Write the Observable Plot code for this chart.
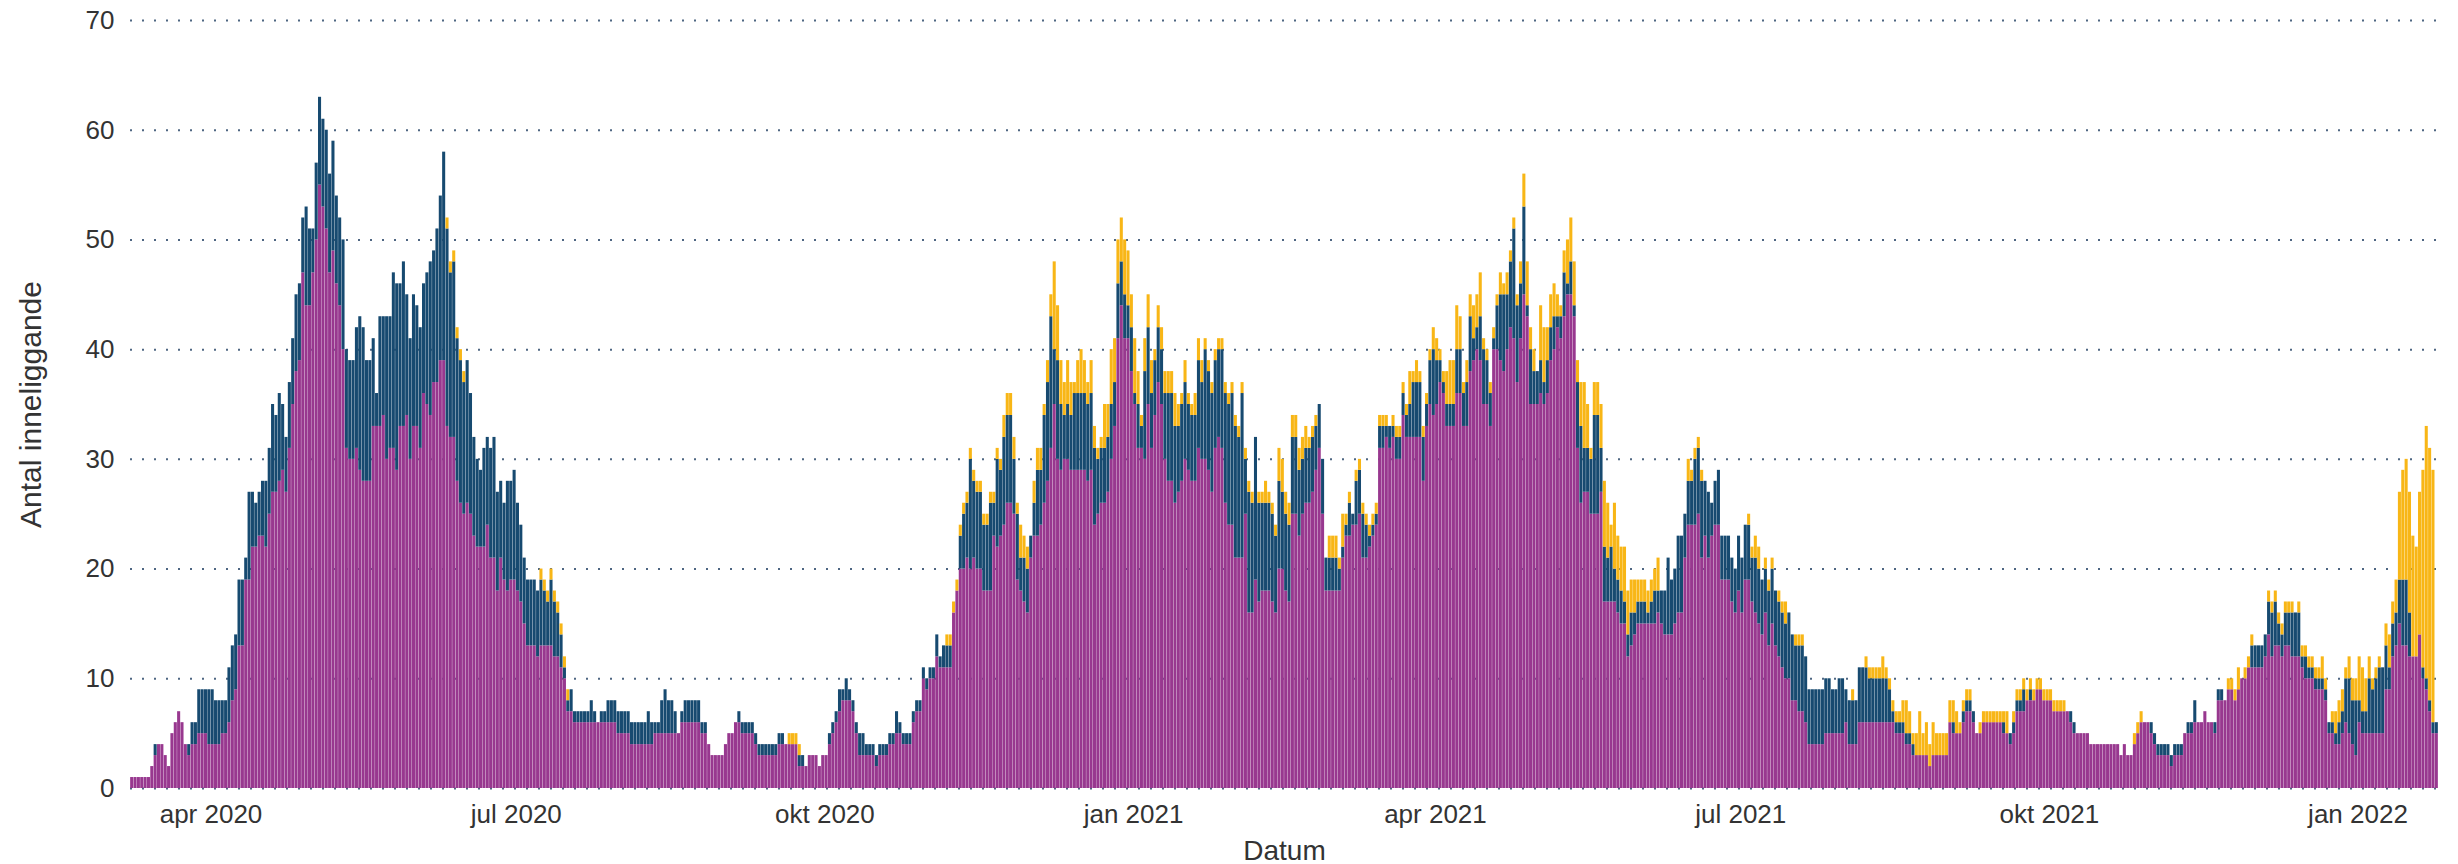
<!DOCTYPE html>
<html><head><meta charset="utf-8">
<script src="https://cdn.jsdelivr.net/npm/d3@7"></script>
<script src="https://cdn.jsdelivr.net/npm/@observablehq/plot@0.6"></script>
<style>
body{margin:0;background:#fff;}
</style></head><body><div id="chart"></div>
<script>
const startDate = "2020-03-08";
const seriesNames = ["Grupp 1", "Grupp 2", "Grupp 3"];
const seriesColors = ["#98388f", "#174a70", "#f8b616"];
const monthNames = ["jan","feb","mar","apr","maj","jun","jul","aug","sep","okt","nov","dec"];
const xTickDates = ["2020-04-01","2020-07-01","2020-10-01","2021-01-01","2021-04-01","2021-07-01","2021-10-01","2022-01-01"];
const yTicks = [0, 10, 20, 30, 40, 50, 60, 70];

const magenta = [
1,1,1,1,1,1,2,3,4,4, 3,2,5,6,7,6,4,3,4,4, 5,5,5,4,4,4,4,5,5,6, 8,9,13,13,19,19,22,22,23,23,
22,25,27,27,28,29,27,31,35,38, 39,47,44,44,47,50,55,53,51,47, 49,46,44,40,31,30,30,31,29,28,
28,28,33,33,33,34,30,31,31,29, 33,33,34,30,33,33,31,36,35,34, 37,37,39,39,33,32,32,28,26,25,
26,25,23,22,22,22,24,21,21,18, 21,19,18,19,19,18,17,15,13,13, 13,12,13,13,13,13,12,12,11,10,
7,7,6,6,6,6,6,6,6,6, 6,6,6,6,6,5,5,5,5,4, 4,4,4,4,4,4,5,5,5,5, 5,5,5,5,6,6,6,6,6,6,
5,5,4,3,3,3,3,4,5,5, 6,6,5,5,5,5,4,3,3,3, 3,3,3,4,4,4,4,4,4,2, 2,2,3,3,3,2,3,3,4,5,
6,7,8,8,8,7,5,3,3,3, 3,3,2,3,3,3,4,4,5,5, 4,4,4,6,7,7,10,9,10,10, 12,11,11,11,11,16,18,20,20,21,
20,21,20,20,18,18,18,23,22,23, 24,26,26,25,19,18,17,16,21,23, 23,24,26,28,31,35,30,29,30,30,
29,29,29,29,29,28,29,24,25,26, 26,27,30,33,41,44,41,41,38,35, 31,31,30,35,31,34,37,35,30,28,
28,26,27,28,30,29,28,28,31,30, 30,29,27,31,32,31,26,24,24,21, 21,21,25,16,16,19,17,18,18,18,
17,16,20,20,18,17,25,25,23,25, 26,26,27,29,31,25,18,18,18,18, 18,21,23,23,24,24,25,21,21,22,
23,24,31,31,32,31,32,30,30,34, 32,32,32,32,32,28,33,35,34,35, 37,36,33,33,33,36,36,33,33,38,
39,40,39,35,35,33,40,40,39,38, 40,42,41,37,41,45,43,35,35,35, 36,35,36,39,40,42,41,43,45,45,
43,31,26,27,27,25,25,25,27,17, 17,17,17,16,15,15,12,13,14,15, 15,15,15,15,15,16,15,14,14,14,
15,16,16,21,24,24,24,25,21,23, 21,23,24,24,19,19,19,17,16,18, 16,19,19,17,16,15,14,16,13,15,
13,12,11,10,10,8,8,7,7,6, 4,4,4,4,4,5,5,5,5,5, 5,6,4,4,4,6,6,6,6,6, 6,6,6,6,6,6,5,5,5,4,
4,3,3,3,3,3,2,3,3,3, 3,3,6,5,5,5,6,7,7,6, 5,5,6,6,6,6,6,6,5,5, 4,5,7,7,7,8,8,8,9,9,
8,8,8,7,7,7,7,7,6,5, 5,5,5,5,4,4,4,4,4,4, 4,4,4,3,4,3,3,4,5,6, 6,6,5,4,3,3,3,3,2,3,
3,3,5,5,5,6,6,6,7,6, 6,5,8,8,8,9,9,8,9,10, 10,11,11,11,11,11,12,14,12,13, 13,12,13,13,12,12,12,11,10,10,
10,9,9,9,8,5,5,4,4,5, 6,5,4,3,6,5,5,5,5,5, 5,5,9,9,12,13,15,13,13,12, 12,12,14,10,9,7,5,5
];

const blue = [
0,0,0,0,0,0,0,1,0,0, 0,0,0,0,0,0,0,1,2,2, 4,4,4,5,5,4,4,3,3,5, 5,5,6,6,2,8,5,4,4,5,
6,6,8,7,8,6,5,6,6,7, 7,5,9,7,4,7,8,8,9,9, 10,8,8,10,9,9,9,11,14,14,
11,11,8,3,10,9,13,12,16,17, 13,15,11,11,12,11,11,10,12,14, 12,14,15,19,18,15,16,13,13,12,
13,11,9,8,7,9,8,10,11,9, 7,7,10,9,10,8,7,6,6,6, 6,6,6,5,4,6,5,4,3,1,
1,2,1,1,1,1,1,2,1,0, 1,1,2,2,2,2,2,2,2,2, 2,2,2,2,3,2,1,1,3,4, 3,3,2,0,1,2,2,2,2,2,
1,1,0,0,0,0,0,0,0,0, 0,1,1,1,1,1,1,1,1,1, 1,1,1,1,1,0,0,0,0,1, 1,0,0,0,0,0,0,0,1,1,
1,2,1,2,1,1,1,2,2,1, 1,1,1,1,1,1,1,1,2,1, 1,1,1,1,1,1,1,1,1,1, 2,1,2,2,2,0,0,3,5,5,
10,7,7,7,6,6,8,3,8,6, 8,8,8,5,6,3,4,4,2,3, 6,5,8,9,12,5,9,6,4,5,
5,7,7,7,7,7,7,7,5,5, 5,5,5,4,5,4,4,3,4,1, 4,2,8,7,5,5,5,5,6,8,
8,7,6,7,7,6,6,6,8,7, 10,9,9,8,8,9,10,11,12,12, 11,15,5,11,10,13,9,8,8,8,
8,7,8,7,7,7,7,7,6,5, 5,5,5,4,4,5,3,3,3,3, 2,1,1,3,1,4,4,4,3,1,
1,1,2,2,1,2,1,2,2,2, 2,3,5,5,5,4,2,4,6,4, 2,1,2,2,2,4,4,3,4,5,
2,2,4,5,4,3,1,4,6,7, 5,6,10,7,5,8,1,5,3,3, 3,2,3,3,3,1,2,4,1,3,
1,6,7,4,4,5,9,9,4,5, 4,5,3,3,3,2,2,3,2,2, 2,2,1,2,3,2,3,4,7,5,
5,7,7,4,4,4,6,6,7,5, 6,3,4,5,4,4,4,4,4,5, 5,5,5,4,5,5,5,4,5,5,
5,5,5,5,6,6,5,6,6,6, 5,5,5,5,5,5,5,4,4,5, 5,3,4,4,4,5,5,5,4,4, 4,4,4,4,3,1,1,1,1,1,
1,1,0,0,0,0,0,0,0,0, 0,0,0,1,0,0,1,1,1,1, 0,0,0,0,0,0,0,0,1,0, 1,1,1,1,2,0,1,0,0,0,
0,0,0,0,0,0,0,0,1,1, 0,0,0,0,0,0,0,0,0,0, 0,0,0,0,0,0,0,0,0,0, 0,0,1,1,1,1,1,1,1,1,
1,1,0,1,1,2,0,0,0,0, 0,1,1,1,0,0,0,0,0,0, 0,0,2,2,2,2,2,3,4,4, 2,2,3,3,4,4,4,1,2,1,
1,1,1,1,1,1,1,1,2,2, 4,5,4,5,2,2,2,5,4,5, 6,6,4,2,3,3,4,6,6,4, 0,0,0,1,1,1,1,1
];

const yellow = [
0,0,0,0,0,0,0,0,0,0, 0,0,0,0,0,0,0,0,0,0, 0,0,0,0,0,0,0,0,0,0, 0,0,0,0,0,0,0,0,0,0,
0,0,0,0,0,0,0,0,0,0, 0,0,0,0,0,0,0,0,0,0, 0,0,0,0,0,0,0,0,0,0,
0,0,0,0,0,0,0,0,0,0, 0,0,0,0,0,0,0,0,0,0, 0,0,0,0,1,1,1,1,1,1,
0,0,0,0,0,0,0,0,0,0, 0,0,0,0,0,0,0,0,0,0, 0,0,1,1,1,1,1,1,1,1,
1,0,0,0,0,0,0,0,0,0, 0,0,0,0,0,0,0,0,0,0, 0,0,0,0,0,0,0,0,0,0, 0,0,0,0,0,0,0,0,0,0,
0,0,0,0,0,0,0,0,0,0, 0,0,0,0,0,0,0,0,0,0, 0,0,0,0,0,0,1,1,1,1, 0,0,0,0,0,0,0,0,0,0,
0,0,0,0,0,0,0,0,0,0, 0,0,0,0,0,0,0,0,0,0, 0,0,0,0,0,0,0,0,0,0, 0,0,0,1,1,1,1,1,1,1,
1,1,1,1,1,1,1,1,1,1, 2,2,2,2,1,3,2,2,0,2, 2,2,1,2,2,8,5,4,3,4,
3,1,3,4,3,2,3,2,1,1, 4,3,5,4,4,4,5,5,3,5, 3,1,3,3,3,1,2,2,2,2,
2,3,2,1,2,1,1,2,2,2, 1,1,1,1,1,1,1,1,1,1, 1,1,1,1,1,0,1,1,2,1,
1,1,3,3,2,2,2,2,2,2, 2,1,1,1,0,0,0,2,2,2, 1,3,1,1,0,1,1,1,1,1,
1,1,1,1,1,0,1,1,1,1, 1,3,1,2,1,1,1,1,2,2, 1,1,3,4,4,4,3,1,2,2,
3,3,4,1,1,1,1,1,2,1, 2,1,1,1,2,3,4,2,2,0, 5,5,3,3,3,2,1,2,4,4,
4,2,4,6,4,1,3,3,4,6, 5,2,6,4,4,5,4,3,3,2, 2,2,2,2,2,3,0,0,0,0,
0,0,0,0,2,1,1,1,1,0, 0,0,0,0,0,0,0,0,0,0, 0,0,1,1,2,2,0,1,1,1,
0,1,1,2,0,0,1,1,1,0, 0,0,0,0,0,0,0,0,0,0, 0,0,0,1,0,0,0,1,1,1, 1,1,2,1,1,1,1,1,2,3,
2,1,2,4,2,3,2,3,2,2, 2,2,2,2,2,1,1,1,1,0, 0,1,1,1,1,1,1,1,1,2, 0,1,1,1,1,1,1,1,1,1,
1,1,1,1,1,1,1,0,0,0, 0,0,0,0,0,0,0,0,0,0, 0,0,0,0,0,0,0,1,1,1, 0,0,0,0,0,0,0,0,0,0,
0,0,0,0,0,0,0,0,0,0, 0,0,0,0,0,1,1,1,2,0, 1,1,1,0,0,0,0,1,1,1, 1,1,1,1,1,0,1,1,1,1,
1,1,1,2,1,0,1,2,2,2, 1,2,2,2,4,4,3,2,1,1, 1,0,2,3,2,3,8,10,11,11, 11,10,13,18,23,23,23,0
];

const start = new Date(startDate);
const values = [magenta, blue, yellow];
const n = magenta.length;
const rows = [];
for (let i = 0; i < n; i++) {
  const date = d3.utcDay.offset(start, i);
  values.forEach((arr, k) => rows.push({date, value: arr[i], series: seriesNames[k]}));
}
const fontFamily = "'Liberation Sans', Arial, sans-serif";

const chart = Plot.plot({
  width: 2458,
  height: 864,
  marginLeft: 130,
  marginRight: 20,
  marginTop: 20,
  marginBottom: 76,
  style: {fontFamily, fontSize: "26px", color: "#333333", background: "#ffffff"},
  x: {
    type: "utc",
    domain: [start, d3.utcDay.offset(start, n)],
    ticks: xTickDates.map(d => new Date(d)),
    tickFormat: d => monthNames[d.getUTCMonth()] + " " + d.getUTCFullYear(),
    tickSize: 0,
    tickPadding: 16,
    label: null
  },
  y: {
    domain: [0, 70],
    ticks: yTicks,
    tickSize: 0,
    tickPadding: 16,
    label: null
  },
  color: {domain: seriesNames, range: seriesColors},
  marks: [
    Plot.ruleY(yTicks, {stroke: "#2f4b6c", strokeWidth: 2, strokeDasharray: "2,10", strokeOpacity: 0.85}),
    Plot.rectY(rows, Plot.stackY({
      x: "date",
      interval: "day",
      y: "value",
      fill: "series",
      order: seriesNames,
      insetLeft: 0.15,
      insetRight: 0.15
    })),
    Plot.text(["Antal inneliggande"], {frameAnchor: "left", dx: -99, rotate: -90, textAnchor: "middle", fontSize: 30, fill: "#333333", fontFamily}),
    Plot.text(["Datum"], {frameAnchor: "bottom", dy: 71, fontSize: 28, fill: "#333333", fontFamily})
  ]
});
document.getElementById("chart").appendChild(chart);
</script>
</body></html>
